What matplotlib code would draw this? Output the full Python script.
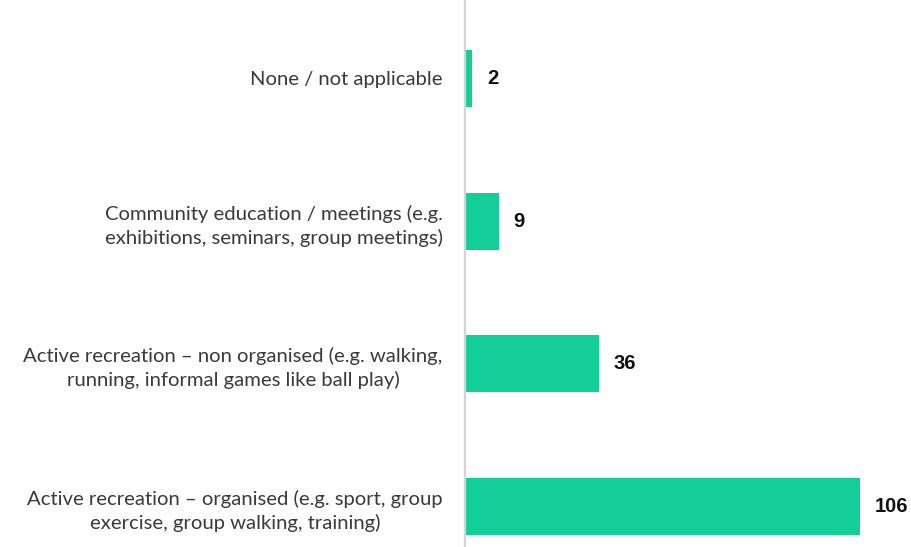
import matplotlib
matplotlib.use("Agg")
import matplotlib.pyplot as plt

categories = [
    "Active recreation \u2013 organised (e.g. sport, group\nexercise, group walking, training)",
    "Active recreation \u2013 non organised (e.g. walking,\nrunning, informal games like ball play)",
    "Community education / meetings (e.g.\nexhibitions, seminars, group meetings)",
    "None / not applicable",
]
values = [106, 36, 9, 2]

W, H = 912, 547
fig = plt.figure(figsize=(W / 100, H / 100), dpi=100)
ax = fig.add_axes([465 / W, 0, (900 - 465) / W, 1])

ypos = list(range(len(categories)))
ax.barh(ypos, values, height=0.4, color="#14CE98", zorder=2)
ax.set_xlim(0, 106 * (900 - 465) / (860 - 465))
ax.set_ylim(-0.284, 3.549)

ax.set_yticks(ypos)
ax.set_yticklabels(categories, fontsize=14.6, family="Lato", color="#3a3a3a",
                   multialignment="center", linespacing=1.4)
ax.tick_params(axis="y", length=0, pad=16)
ax.set_xticks([])
for s in ["top", "right", "bottom"]:
    ax.spines[s].set_visible(False)
ax.spines["left"].set_color("#d4d4d4")
ax.spines["left"].set_linewidth(1.6)

for y, v in zip(ypos, values):
    ax.annotate(str(v), xy=(v, y), xytext=(10.5, 0), textcoords="offset points",
                va="center", ha="left", fontsize=14.5, fontweight="bold",
                family="Liberation Sans", color="#111111")

fig.savefig("out.png", dpi=100)
